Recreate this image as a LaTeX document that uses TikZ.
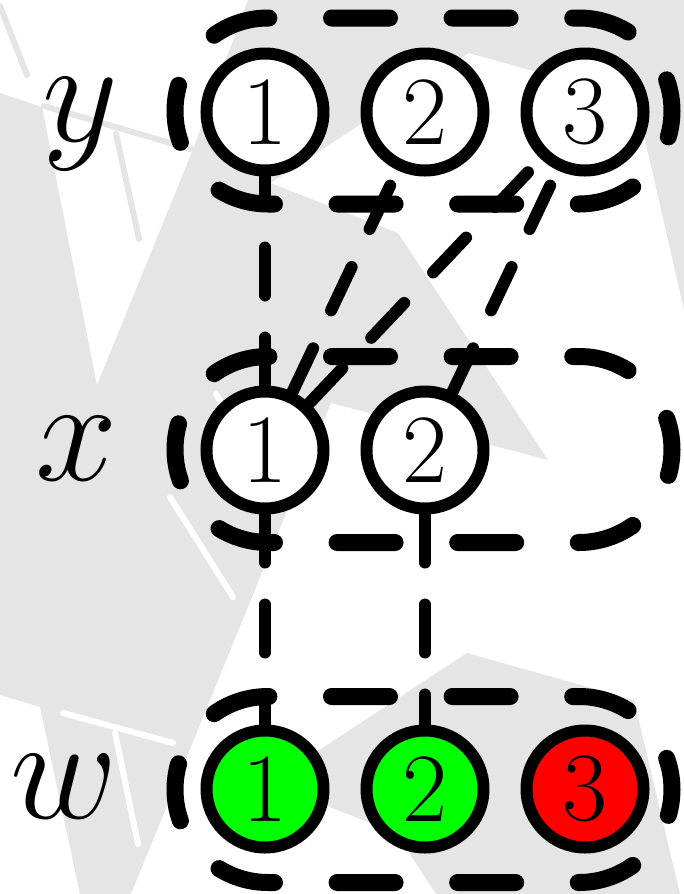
\documentclass[tikz,border=0pt]{standalone}
\usepackage{fix-cm}
\usepackage{tikz}
\usetikzlibrary{calc}
\definecolor{obsgreen}{RGB}{0,255,0}
\definecolor{obsred}{RGB}{255,0,0}
\tikzset{var/.style={circle,draw,line width=2.4mm,fill=white,minimum size=23.4mm,inner sep=0pt,
    font=\fontsize{55.8}{60}\selectfont},
  grp/.style={line width=3.4mm,line cap=round,dash pattern=on 11.6mm off 12.52mm,dash phase=11.42mm},
  link/.style={line width=2.4mm,line cap=round,dash pattern=on 9.6mm off 8.4mm},
  lab/.style={anchor=base,inner sep=0pt,font=\fontsize{84}{90}\selectfont},
  wm/.style={fill=black!10},
  wmline/.style={draw=black!10,line width=1.2mm,line cap=round},
  wmcut/.style={draw=white,line width=1.2mm,line cap=round}}

\begin{document}
\begin{tikzpicture}[x=0.2mm,y=-0.2mm]
\useasboundingbox (0,0) rectangle (684,894);
% watermark in the back
\fill[wm] (0,93) -- (42,107) -- (97,385) -- (192,152) -- (398,233) -- (548,460) -- (331,403)
  -- (131,894) -- (80,894) -- (40,707) -- (0,695) -- cycle;
\fill[wm] (248,0) -- (684,0) -- (684,310) -- (636,100) -- (469,53) -- (271,183) -- (192,152) -- cycle;
\fill[wm] (269,783) -- (467,653) -- (634,700) -- (680,894) -- (436,894) -- (396,833) -- cycle;
\draw[wmline] (0,6) -- (27,75);
\draw[wmline] (44,106) -- (194,150);
\draw[wmline] (116,134) -- (139,239);
\draw[wmcut] (170,497) -- (233,597);
\draw[wmcut] (216,394) -- (279,500);
\draw[wmcut] (63,713) -- (173,743);
\draw[wmcut] (115,733) -- (138,844);
% groups
\foreach \cy in {111,449.5,789.5}
  \draw[grp] (268,{\cy-93}) -- (579,{\cy-93}) arc[start angle=-90,end angle=90,radius=93]
    -- (268,{\cy+93}) arc[start angle=90,end angle=270,radius=93] -- cycle;
% variables
\node[var] (y1) at (265,112) {1};
\node[var] (y2) at (425,112) {2};
\node[var] (y3) at (585,112) {3};
\node[var] (x1) at (265,450) {1};
\node[var] (x2) at (425,450) {2};
\node[var,fill=obsgreen] (w1) at (265,789) {1};
\node[var,fill=obsgreen] (w2) at (425,789) {2};
\node[var,fill=obsred] (w3) at (585,789) {3};
\node[lab] (ly) at (80,141) {$y$};
\node[lab] (lx) at (77,480) {$x$};
\node[lab] (lw) at (64,818) {$w$};
% links
\draw[link] (x1) -- (y1);
\draw[link] (x1) -- (y2);
\draw[link] (x1) -- (y3);
\draw[link] (x2) -- (y3);
\draw[link] (x1) -- (w1);
\draw[link] (x2) -- (w2);
\end{tikzpicture}
\end{document}
